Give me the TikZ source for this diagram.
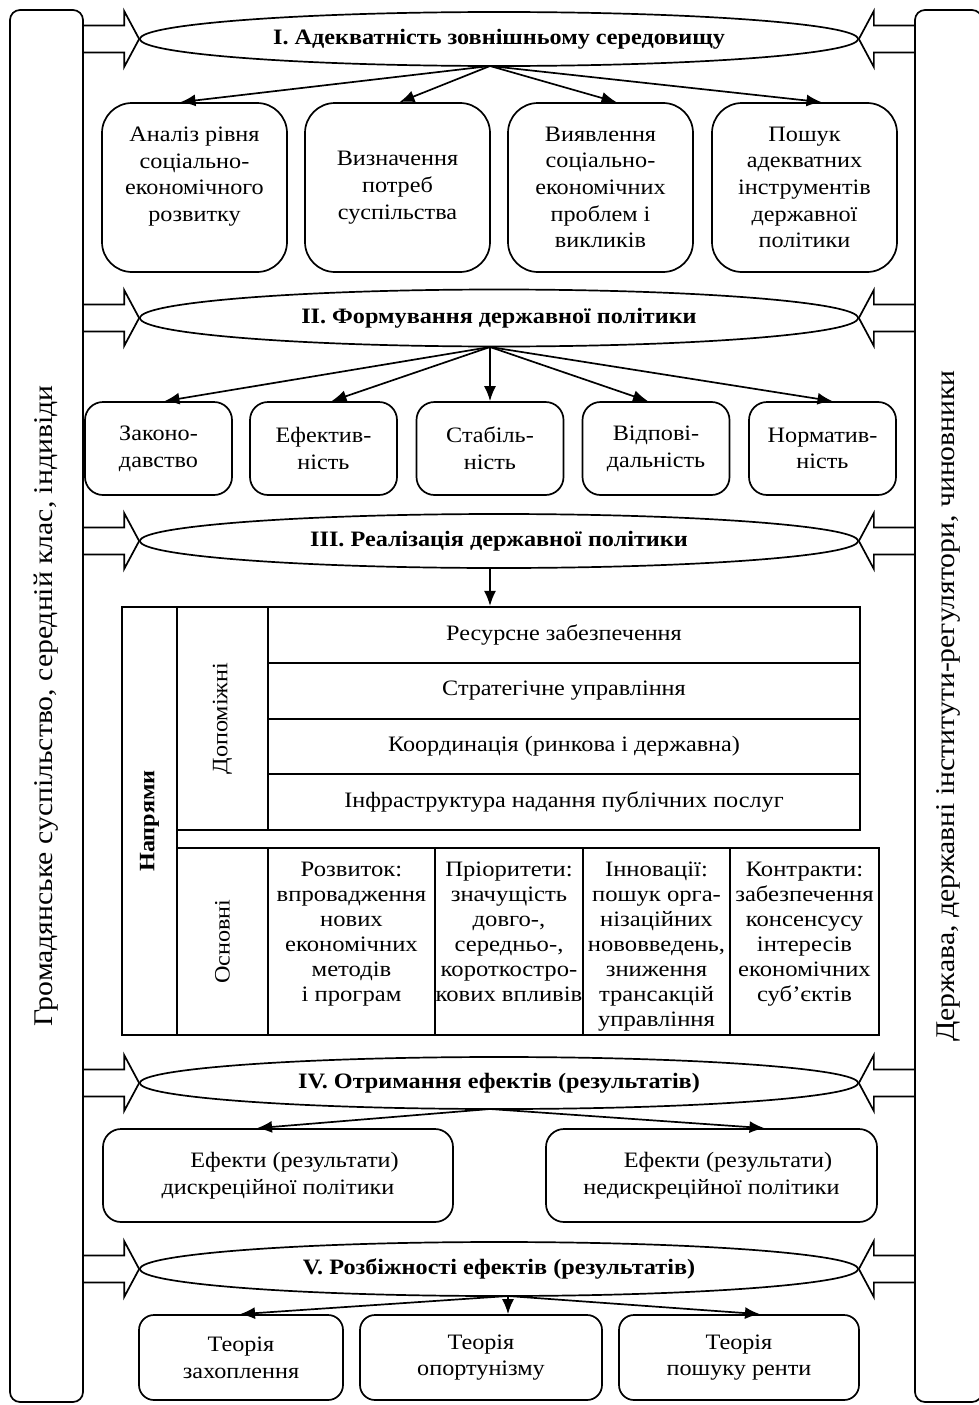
\documentclass[tikz,border=0pt]{standalone}
\usepackage{fontspec}
\setmainfont{Liberation Serif}[FakeStretch=1.1]
\newfontfamily\cellfont{Liberation Serif}[FakeStretch=1.12]
\usetikzlibrary{shapes.geometric,arrows.meta,calc}

\tikzset{every picture/.style={line width=1.7pt}}
\tikzset{
  stage/.style={draw, ellipse, fill=white, minimum width=718pt, minimum height=54pt, inner sep=0pt, font=\fontsize{22}{26}\selectfont\bfseries},
  rbox/.style={draw, rounded corners=#1, inner sep=0pt, align=center, font=\fontsize{22}{26.7}\selectfont},
  rbox/.default=18pt,
  cell/.style={draw, line width=2.1pt, inner sep=0pt, align=center, font=\fontsize{22}{25}\selectfont},
  side/.style={draw, rounded corners=10pt, inner sep=0pt, rotate=90, font=\fontsize{27}{30}\selectfont},
  link/.style={-{Latex[length=15pt,width=12pt]}}
}

\begin{document}
\begin{tikzpicture}[x=1pt,y=1pt,yscale=-1]
\useasboundingbox (0,0) rectangle (979,1405);

% side bars
\node[side, minimum width=1392pt, minimum height=73pt] (civil) at (46.5,706) {Громадянське суспільство, середній клас, індивіди};
\node[side, minimum width=1392pt, minimum height=67pt] (state) at (948.5,706) {Держава, державні інститути-регулятори, чиновники};

% stages
\node[stage] (e1) at (499,39) {I. Адекватність зовнішньому середовищу};
\node[stage, minimum height=57pt] (e2) at (499,318) {II. Формування державної політики};
\node[stage] (e3) at (499,541) {III. Реалізація державної політики};
\node[stage, minimum height=52pt] (e4) at (499,1083) {IV. Отримання ефектів (результатів)};
\node[stage] (e5) at (499,1269) {V. Розбіжності ефектів (результатів)};

% block arrows from the bars
\foreach \e in {e1,e2,e3,e4,e5} {
  \draw (\e.west) -- ++(-15,-28) -- ++(0,14.5) -- ++(-42,0) ++(0,27) -- ++(42,0) -- ++(0,14.5) -- (\e.west);
  \draw (\e.east) -- ++(15,-28) -- ++(0,14.5) -- ++(42,0) ++(0,27) -- ++(-42,0) -- ++(0,14.5) -- (\e.east);
}

% I
\node[rbox=30pt, minimum width=185pt, minimum height=169pt] (a1) at (194.5,187.5) {Аналіз рівня\\соціально-\\економічного\\розвитку\\~};
\node[rbox=30pt, minimum width=185pt, minimum height=169pt] (a2) at (397.5,187.5) {Визначення\\потреб\\суспільства};
\node[rbox=30pt, minimum width=185pt, minimum height=169pt] (a3) at (600.5,187.5) {Виявлення\\соціально-\\економічних\\проблем і\\викликів};
\node[rbox=30pt, minimum width=185pt, minimum height=169pt] (a4) at (804.5,187.5) {Пошук\\адекватних\\інструментів\\державної\\політики};
\coordinate (o1) at (490,66);
\foreach \n/\dx in {a1/-14,a2/2,a3/16,a4/17}
  \draw[link] (o1) -- ($(\n.north)+(\dx,0)$);

% II
\node[rbox, minimum width=147pt, minimum height=93pt] (b1) at (158.5,448.5) {Законо-\\давство};
\node[rbox, minimum width=147pt, minimum height=93pt] (b2) at (323.5,448.5) {Ефектив-\\ність};
\node[rbox, minimum width=147pt, minimum height=93pt] (b3) at (490,448.5) {Стабіль-\\ність};
\node[rbox, minimum width=147pt, minimum height=93pt] (b4) at (656,448.5) {Відпові-\\дальність};
\node[rbox, minimum width=147pt, minimum height=93pt] (b5) at (822.5,448.5) {Норматив-\\ність};
\coordinate (o2) at (490,347);
\foreach \n/\dx in {b1/6,b2/8,b3/0,b4/-8,b5/10}
  \draw[link] (o2) -- ($(\n.north)+(\dx,0)$);

% III
\node[cell, rotate=90, minimum width=428pt, minimum height=55pt] (nap) at (149.5,821) {\bfseries Напрями};
\node[cell, rotate=90, minimum width=223pt, minimum height=91pt] (dop) at (222.5,718.5) {Допоміжні};
\node[cell, minimum width=592pt, minimum height=56pt] (r1) at (564,635) {Ресурсне забезпечення};
\node[cell, minimum width=592pt, minimum height=56pt] (r2) at (564,691) {Стратегічне управління};
\node[cell, minimum width=592pt, minimum height=55pt] (r3) at (564,746.5) {Координація (ринкова і державна)};
\node[cell, minimum width=592pt, minimum height=56pt] (r4) at (564,802) {Інфраструктура надання публічних послуг};
\node[cell, rotate=90, minimum width=187pt, minimum height=91pt] (osn) at (222.5,941.5) {Основні};
\node[cell] (c1) at (351.5,941.5) {\parbox[c][187pt][t]{167pt}{\centering\cellfont\vspace{14pt}Розвиток:\\впровадження\\нових\\економічних\\методів\\і програм}};
\node[cell] (c2) at (509,941.5) {\parbox[c][187pt][t]{148pt}{\centering\cellfont\vspace{14pt}Пріоритети:\\значущість\\довго-,\\середньо-,\\короткостро-\\кових впливів}};
\node[cell] (c3) at (656.5,941.5) {\parbox[c][187pt][t]{147pt}{\centering\cellfont\vspace{14pt}Інновації:\\пошук орга-\\нізаційних\\нововведень,\\зниження\\трансакцій\\управління}};
\node[cell] (c4) at (804.5,941.5) {\parbox[c][187pt][t]{149pt}{\centering\cellfont\vspace{14pt}Контракти:\\забезпечення\\консенсусу\\інтересів\\економічних\\суб’єктів}};
\coordinate (o3) at (490,568);
\draw[link] (o3) -- (r1.north -| o3);

% IV
\node[rbox, minimum width=350pt, minimum height=93pt] (d1) at (278,1175.5) {\hspace*{1.5em}Ефекти (результати)\\дискреційної політики};
\node[rbox, minimum width=331pt, minimum height=93pt] (d2) at (711.5,1175.5) {\hspace*{1.5em}Ефекти (результати)\\недискреційної політики};
\coordinate (o4) at (490,1109);
\foreach \n/\dx in {d1/-21,d2/53}
  \draw[link] (o4) -- ($(\n.north)+(\dx,0)$);

% V
\node[rbox=15pt, minimum width=204pt, minimum height=85pt] (f1) at (241,1357.5) {Теорія\\захоплення};
\node[rbox=15pt, minimum width=242pt, minimum height=85pt] (f2) at (481,1357.5) {Теорія\\опортунізму};
\node[rbox=15pt, minimum width=240pt, minimum height=85pt] (f3) at (739,1357.5) {Теорія\\пошуку ренти};
\coordinate (o5) at (508,1296);
\foreach \n/\dx in {f1/-1,f2/27,f3/21}
  \draw[link] (o5) -- ($(\n.north)+(\dx,0)$);

\end{tikzpicture}
\end{document}
